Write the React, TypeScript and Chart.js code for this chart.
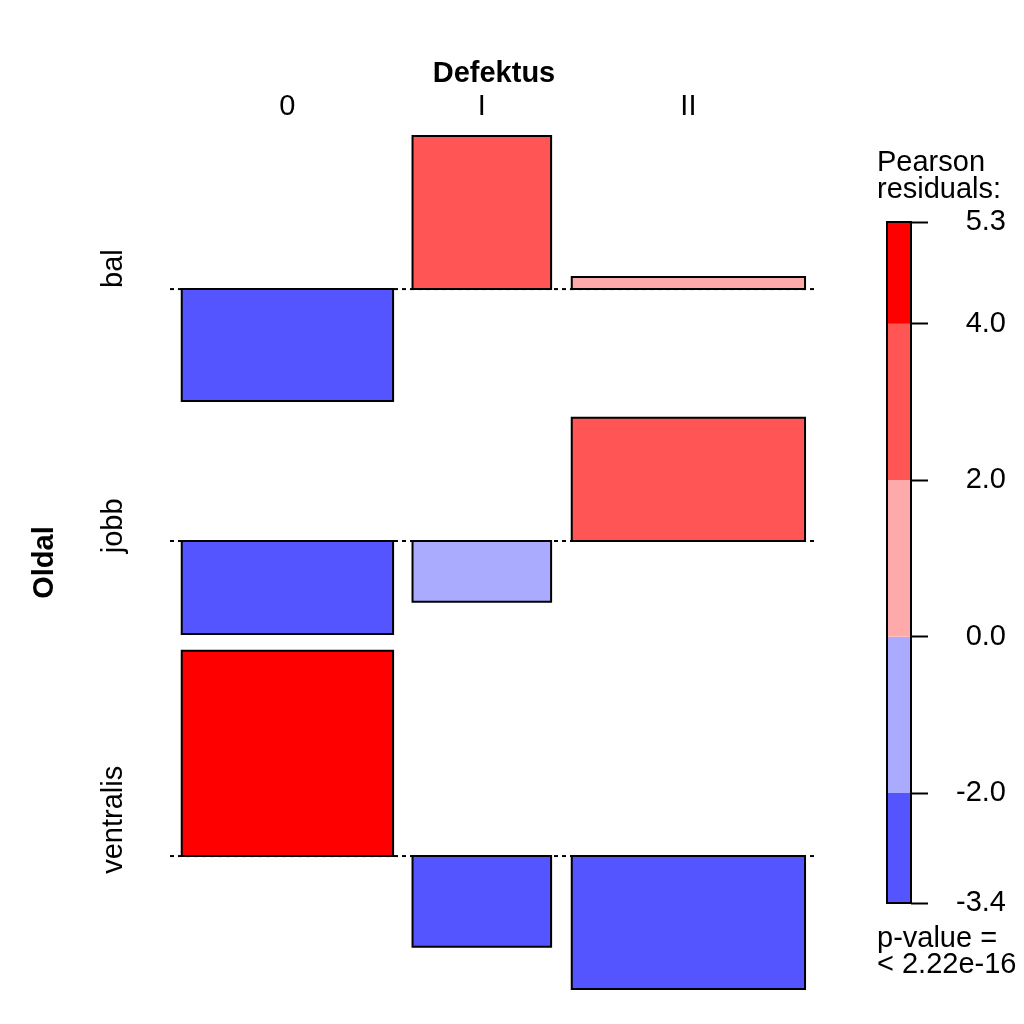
import React, { useEffect, useRef } from "react";
import { Chart, registerables } from "chart.js";

Chart.register(...registerables);

// ---------------- data ----------------
const rowVarName = "Oldal";
const colVarName = "Defektus";
const rowLabels = ["bal", "jobb", "ventralis"];
const colLabels = ["0", "I", "II"];
// relative sqrt(expected) per column -> bar widths
const colSqrtExpected = [10.6, 6.95, 11.7];
// Pearson residuals per row (columns 0, I, II)
const residBal = [-2.89, 3.95, 0.31];
const residJobb = [-2.4, -1.57, 3.18];
const residVentralis = [5.3, -2.34, -3.43];
const legendBreaks = [-3.4, -2, 0, 2, 4, 5.3];
const legendColors = ["#5555FF", "#AAAAFF", "#FFAAAA", "#FF5555", "#FF0000"];
const legendTitle = ["Pearson", "residuals:"];
const pValueText = ["p-value =", "< 2.22e-16"];

// ---------------- layout helpers ----------------
const FONT = "'Liberation Sans', Arial, Helvetica, sans-serif";
const FS = 29;
const X_SCALE = 0.9;
const ROW_GAP = 0.43;

const residuals = [residBal, residJobb, residVentralis];

const slotW = colSqrtExpected.map((w) => w / X_SCALE);
const slotStart: number[] = [];
slotW.reduce((acc, w) => {
  slotStart.push(acc);
  return acc + w;
}, 0);
const xMax = slotW.reduce((a, b) => a + b, 0);
const colCenter = slotStart.map((s, j) => s + slotW[j] / 2);

const rowTop: number[] = [];
const rowBase: number[] = [];
const rowBottom: number[] = [];
{
  let cur = 0;
  residuals.forEach((row, i) => {
    const pos = Math.max(0, ...row);
    const neg = Math.max(0, ...row.map((v) => -v));
    rowTop.push(cur);
    rowBase.push(cur - pos);
    rowBottom.push(cur - pos - neg);
    cur = cur - pos - neg - (i < residuals.length - 1 ? ROW_GAP : 0);
  });
}
const yMin = rowBottom[rowBottom.length - 1];

function shade(v: number): string {
  for (let k = 0; k < legendColors.length; k++) {
    const lo = k === 0 ? -Infinity : legendBreaks[k];
    const hi = k === legendColors.length - 1 ? Infinity : legendBreaks[k + 1];
    if (v >= lo && v < hi) return legendColors[k];
  }
  return legendColors[legendColors.length - 1];
}

function buildMainDatasets() {
  const ds: any[] = [];
  rowBase.forEach((b) => {
    ds.push({
      data: [
        { x: 0, y: b },
        { x: xMax, y: b },
      ],
      borderColor: "#000",
      borderWidth: 2,
      borderDash: [4, 4],
      pointRadius: 0,
      fill: false,
      order: 10,
      clip: false,
    });
  });
  residuals.forEach((row, i) => {
    row.forEach((r, j) => {
      const w = colSqrtExpected[j];
      const x0 = colCenter[j] - w / 2;
      const x1 = colCenter[j] + w / 2;
      const b = rowBase[i];
      const t = b + r;
      ds.push({
        data: [
          { x: x0, y: b },
          { x: x0, y: t },
          { x: x1, y: t },
          { x: x1, y: b },
          { x: x0, y: b },
        ],
        backgroundColor: shade(r),
        borderColor: "#000",
        borderWidth: 2,
        borderJoinStyle: "miter",
        borderCapStyle: "square",
        pointRadius: 0,
        tension: 0,
        fill: "shape",
        order: 0,
        clip: false,
      });
    });
  });
  return ds;
}

const mainLabelsPlugin = {
  id: "mainLabels",
  afterDraw(chart: any) {
    const { ctx, chartArea, scales } = chart;
    const xs = scales.x;
    const ys = scales.y;
    ctx.save();
    ctx.fillStyle = "#000";
    ctx.textAlign = "center";
    ctx.textBaseline = "alphabetic";
    ctx.font = `bold ${FS}px ${FONT}`;
    ctx.fillText(colVarName, (chartArea.left + chartArea.right) / 2, chartArea.top - 54);
    ctx.font = `${FS}px ${FONT}`;
    colLabels.forEach((lab, j) => {
      ctx.fillText(lab, xs.getPixelForValue(colCenter[j]), chartArea.top - 21);
    });
    rowLabels.forEach((lab, i) => {
      const cy = ys.getPixelForValue((rowTop[i] + rowBottom[i]) / 2);
      ctx.save();
      ctx.translate(chartArea.left - 48, cy);
      ctx.rotate(-Math.PI / 2);
      ctx.fillText(lab, 0, 0);
      ctx.restore();
    });
    ctx.font = `bold ${FS}px ${FONT}`;
    ctx.save();
    ctx.translate(chartArea.left - 117, (chartArea.top + chartArea.bottom) / 2);
    ctx.rotate(-Math.PI / 2);
    ctx.fillText(rowVarName, 0, 0);
    ctx.restore();
    ctx.restore();
  },
};

const legendDecorPlugin = {
  id: "legendDecor",
  afterDraw(chart: any) {
    const { ctx, chartArea } = chart;
    ctx.save();
    ctx.strokeStyle = "#000";
    ctx.lineWidth = 2;
    ctx.strokeRect(
      chartArea.left,
      chartArea.top,
      chartArea.right - chartArea.left,
      chartArea.bottom - chartArea.top
    );
    ctx.fillStyle = "#000";
    ctx.font = `${FS}px ${FONT}`;
    ctx.textAlign = "left";
    ctx.textBaseline = "alphabetic";
    const lx = chartArea.left - 10;
    ctx.fillText(legendTitle[0], lx, chartArea.top - 51);
    ctx.fillText(legendTitle[1], lx, chartArea.top - 24);
    ctx.fillText(pValueText[0], lx, chartArea.bottom + 44);
    ctx.fillText(pValueText[1], lx, chartArea.bottom + 70);
    ctx.restore();
  },
};

export default function App() {
  const mainRef = useRef<HTMLCanvasElement>(null);
  const legRef = useRef<HTMLCanvasElement>(null);

  useEffect(() => {
    const main = new Chart(mainRef.current as HTMLCanvasElement, {
      type: "line",
      data: { datasets: buildMainDatasets() },
      options: {
        responsive: false,
        animation: false,
        events: [],
        layout: { padding: { left: 170, right: 42, top: 136, bottom: 35 } },
        scales: {
          x: { type: "linear", min: 0, max: xMax, display: false },
          y: { type: "linear", min: yMin, max: 0, display: false },
        },
        plugins: { legend: { display: false }, tooltip: { enabled: false } },
      } as any,
      plugins: [mainLabelsPlugin],
    });

    const leg = new Chart(legRef.current as HTMLCanvasElement, {
      type: "bar",
      data: {
        labels: [""],
        datasets: legendColors.map((c, k) => ({
          data: [[legendBreaks[k], legendBreaks[k + 1]]],
          backgroundColor: c,
          borderWidth: 0,
          grouped: false,
          barPercentage: 1,
          categoryPercentage: 1,
        })) as any,
      },
      options: {
        responsive: false,
        animation: false,
        events: [],
        layout: { padding: { left: 27, right: 18, top: 222, bottom: 121 } },
        scales: {
          x: { display: false },
          y: {
            position: "right",
            min: legendBreaks[0],
            max: legendBreaks[legendBreaks.length - 1],
            afterBuildTicks: (s: any) => {
              s.ticks = legendBreaks.map((v) => ({ value: v }));
            },
            afterFit: (s: any) => {
              s.width = 95;
            },
            ticks: {
              callback: (v: any) => Number(v).toFixed(1),
              color: "#000",
              font: { size: FS, family: FONT },
              padding: 8,
              crossAlign: "far",
              autoSkip: false,
            },
            grid: {
              drawOnChartArea: false,
              drawTicks: true,
              tickLength: 17,
              tickWidth: 2,
              tickColor: "#000",
            },
            border: { display: false },
          },
        },
        plugins: { legend: { display: false }, tooltip: { enabled: false } },
      } as any,
      plugins: [legendDecorPlugin],
    });

    return () => {
      main.destroy();
      leg.destroy();
    };
  }, []);

  return (
    <div
      style={{
        position: "absolute",
        left: 0,
        top: 0,
        width: 1024,
        height: 1024,
        background: "#fff",
      }}
    >
      <canvas
        ref={mainRef}
        width={860}
        height={1024}
        style={{ position: "absolute", left: 0, top: 0 }}
      />
      <canvas
        ref={legRef}
        width={164}
        height={1024}
        style={{ position: "absolute", left: 860, top: 0 }}
      />
    </div>
  );
}
